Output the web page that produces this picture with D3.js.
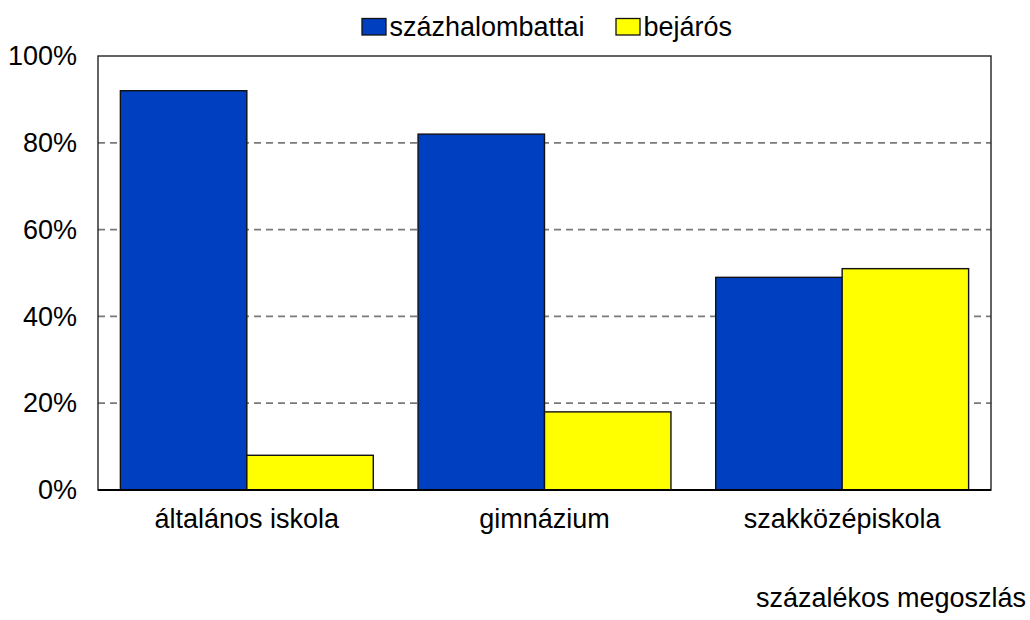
<!DOCTYPE html>
<html><head><meta charset="utf-8">
<script src="https://cdn.jsdelivr.net/npm/d3@7"></script>
<style>body{margin:0;background:#fff}svg{display:block}text{font-family:"Liberation Sans",Arial,sans-serif;fill:#000}</style>
</head><body><svg id="c" width="1030" height="620"></svg>
<script>
const categories = ["általános iskola", "gimnázium", "szakközépiskola"];
const seriesNames = ["százhalombattai", "bejárós"];
const szazhalombattai = [92, 82, 49];
const bejaros = [8, 18, 51];
const yTicks = [0, 20, 40, 60, 80, 100];
const colors = ["#0040C0", "#FFFF00"];
const footnote = "százalékos megoszlás";

const svg = d3.select("#c");
const m = {left: 98, top: 56, right: 991, bottom: 490};
const fs = 27;

const x = d3.scaleBand().domain(categories).range([m.left, m.right]).paddingInner(0).paddingOuter(0);
const xs = d3.scaleBand().domain(seriesNames).range([0, x.bandwidth()]).paddingInner(0).paddingOuter(0.177);
const y = d3.scaleLinear().domain([0, 100]).range([m.bottom, m.top]);

// gridlines
svg.append("g").selectAll("line").data(yTicks.filter(d => d > 0 && d < 100)).join("line")
  .attr("x1", m.left).attr("x2", m.right).attr("y1", d => y(d)).attr("y2", d => y(d))
  .attr("stroke", "#7a7a7a").attr("stroke-width", 1.8).attr("stroke-dasharray", "7,5");

// frame
svg.append("rect").attr("x", m.left).attr("y", m.top).attr("width", m.right - m.left).attr("height", m.bottom - m.top)
  .attr("fill", "none").attr("stroke", "#222").attr("stroke-width", 1.4);

const data = categories.map((c, i) => ({c, vals: [szazhalombattai[i], bejaros[i]]}));
const g = svg.append("g").selectAll("g").data(data).join("g").attr("transform", d => `translate(${x(d.c)},0)`);
g.selectAll("rect").data(d => d.vals.map((v, j) => ({s: seriesNames[j], v, j}))).join("rect")
  .attr("x", d => xs(d.s)).attr("width", xs.bandwidth())
  .attr("y", d => y(d.v)).attr("height", d => y(0) - y(d.v))
  .attr("fill", d => colors[d.j]).attr("stroke", "#111").attr("stroke-width", 1.4);

// bottom axis line
svg.append("line").attr("x1", m.left).attr("x2", m.right).attr("y1", m.bottom).attr("y2", m.bottom)
  .attr("stroke", "#000").attr("stroke-width", 2);

// y axis labels
const ya = svg.append("g").attr("transform", `translate(${m.left},0)`)
  .call(d3.axisLeft(y).tickValues(yTicks).tickFormat(d => d + "%").tickSize(0).tickPadding(21));
ya.select(".domain").remove();
ya.selectAll("text").attr("font-size", fs).attr("font-family", '"Liberation Sans",Arial,sans-serif').attr("fill", "#000");

// x axis labels
const xa = svg.append("g").attr("transform", `translate(0,${m.bottom})`)
  .call(d3.axisBottom(x).tickSize(0).tickPadding(19));
xa.select(".domain").remove();
xa.selectAll("text").attr("font-size", fs).attr("font-family", '"Liberation Sans",Arial,sans-serif').attr("fill", "#000");

// legend
const leg = svg.append("g");
const legX = [362, 616];
seriesNames.forEach((s, i) => {
  leg.append("rect").attr("x", legX[i]).attr("y", 18.5).attr("width", 24).attr("height", 16.5)
    .attr("fill", colors[i]).attr("stroke", "#111").attr("stroke-width", 1.3);
  leg.append("text").attr("x", legX[i] + 27.5).attr("y", 35.5).attr("font-size", fs).text(s);
});

svg.append("text").attr("x", 1026).attr("y", 607).attr("text-anchor", "end").attr("font-size", fs).text(footnote);
</script></body></html>
